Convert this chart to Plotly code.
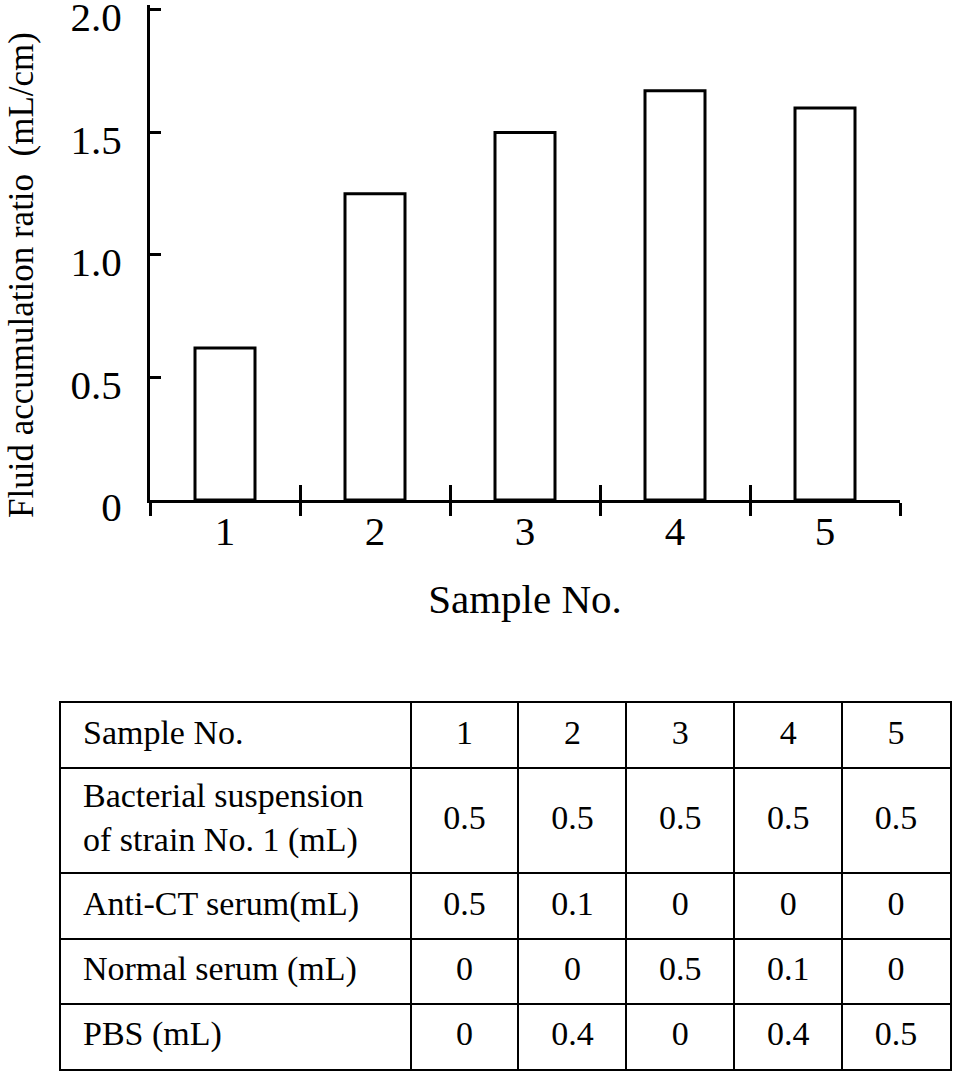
import plotly.graph_objects as go
import numpy as np

# bar chart data
samples = ["1", "2", "3", "4", "5"]
fluid_ratio = [0.62, 1.25, 1.50, 1.67, 1.60]
y_ticks = [0, 0.5, 1.0, 1.5, 2.0]
y_ticktext = ["0", "0.5", "1.0", "1.5", "2.0"]

# table data
row_labels = [
    "Sample No.",
    "Bacterial suspension<br>of strain No. 1 (mL)",
    "Anti-CT serum(mL)",
    "Normal serum (mL)",
    "PBS (mL)",
]
bacterial = [0.5, 0.5, 0.5, 0.5, 0.5]
anti_ct = [0.5, 0.1, 0, 0, 0]
normal_serum = [0, 0, 0.5, 0.1, 0]
pbs = [0, 0.4, 0, 0.4, 0.5]

serif = "Liberation Serif"

# table geometry (px): column widths and row heights
col_w = [350, 108, 108, 108, 108, 108]
row_h = [65, 105, 65, 65, 65]
x_edges = np.cumsum([0] + col_w)
y_edges = np.cumsum([0] + row_h)
x_mid = (x_edges[:-1] + x_edges[1:]) / 2
y_mid = (y_edges[:-1] + y_edges[1:]) / 2

fig = go.Figure()

fig.add_trace(go.Bar(
    x=samples, y=fluid_ratio, width=0.4,
    marker=dict(color="white", line=dict(color="black", width=3)),
    showlegend=False, hoverinfo="x+y",
))
# transparent copy so the overlaid axis (upper half of the crossing ticks) is drawn
fig.add_trace(go.Bar(
    x=samples, y=fluid_ratio, width=0.4, xaxis="x2",
    marker=dict(color="rgba(0,0,0,0)", line=dict(width=0)),
    showlegend=False, hoverinfo="skip",
))

# table: row labels
fig.add_trace(go.Scatter(
    x=[22] * len(row_labels), y=y_mid, text=row_labels,
    mode="text", textposition="middle right",
    textfont=dict(family=serif, size=34, color="black"),
    xaxis="x3", yaxis="y3", showlegend=False, hoverinfo="skip", cliponaxis=False,
))
# table: values
tx, ty, tt = [], [], []
for j, s in enumerate(samples):
    column = [s] + [f"{v:g}" for v in (bacterial[j], anti_ct[j], normal_serum[j], pbs[j])]
    for r, val in enumerate(column):
        tx.append(x_mid[j + 1])
        ty.append(y_mid[r])
        tt.append(val)
fig.add_trace(go.Scatter(
    x=tx, y=ty, text=tt, mode="text", textposition="middle center",
    textfont=dict(family=serif, size=34, color="black"),
    xaxis="x3", yaxis="y3", showlegend=False, hoverinfo="skip", cliponaxis=False,
))

fig.update_layout(
    width=955, height=1076,
    margin=dict(l=0, r=0, t=0, b=0),
    paper_bgcolor="white", plot_bgcolor="white",
    font=dict(family=serif, color="black"),
    xaxis=dict(
        domain=[150 / 955, 900 / 955],
        type="category", range=[-0.5, 4.5],
        tickson="boundaries", ticks="outside", ticklen=13, tickwidth=3, tickcolor="black",
        ticklabelstandoff=-7,
        showline=True, linecolor="black", linewidth=3,
        showgrid=False, zeroline=False,
        tickfont=dict(size=41),
        title=dict(text="Sample No.", font=dict(size=41), standoff=32),
        automargin=False,
    ),
    xaxis2=dict(
        overlaying="x", matches="x", anchor="y",
        domain=[150 / 955, 900 / 955],
        type="category", range=[-0.5, 4.5],
        tickson="boundaries", ticks="inside", ticklen=15, tickwidth=3, tickcolor="black",
        showticklabels=False, showline=False, showgrid=False, zeroline=False,
    ),
    yaxis=dict(
        domain=[1 - 500 / 1076, 1 - 5 / 1076],
        range=[0, 2.02],
        tickvals=y_ticks, ticktext=y_ticktext,
        ticks="inside", ticklen=11, tickwidth=3, tickcolor="black",
        ticklabelstandoff=17, ticklabeloverflow="allow", ticklabelshift=7,
        showline=True, linecolor="black", linewidth=3,
        showgrid=False, zeroline=False,
        tickfont=dict(size=41),
        automargin=False,
    ),
    xaxis3=dict(
        domain=[61 / 955, 950 / 955], anchor="y3",
        range=[x_edges[0], x_edges[-1]],
        tickvals=x_edges[1:-1], showticklabels=False, ticks="",
        showgrid=True, gridcolor="black", gridwidth=2,
        showline=True, mirror=True, linecolor="black", linewidth=2,
        zeroline=False, fixedrange=True,
    ),
    yaxis3=dict(
        domain=[1 - 1069 / 1076, 1 - 703 / 1076], anchor="x3",
        range=[y_edges[-1], y_edges[0]],
        tickvals=y_edges[1:-1], showticklabels=False, ticks="",
        showgrid=True, gridcolor="black", gridwidth=2,
        showline=True, mirror=True, linecolor="black", linewidth=2,
        zeroline=False, fixedrange=True,
    ),
    annotations=[dict(
        text="Fluid accumulation ratio\u00a0 (mL/cm)",
        textangle=-90, font=dict(size=35),
        xref="paper", yref="paper", x=21 / 955, y=1 - 275 / 1076,
        xanchor="center", yanchor="middle", showarrow=False,
    )],
)

fig.write_html(
    "out.html",
    config={"displayModeBar": False},
    post_script="document.body.style.margin='0px';",
)
